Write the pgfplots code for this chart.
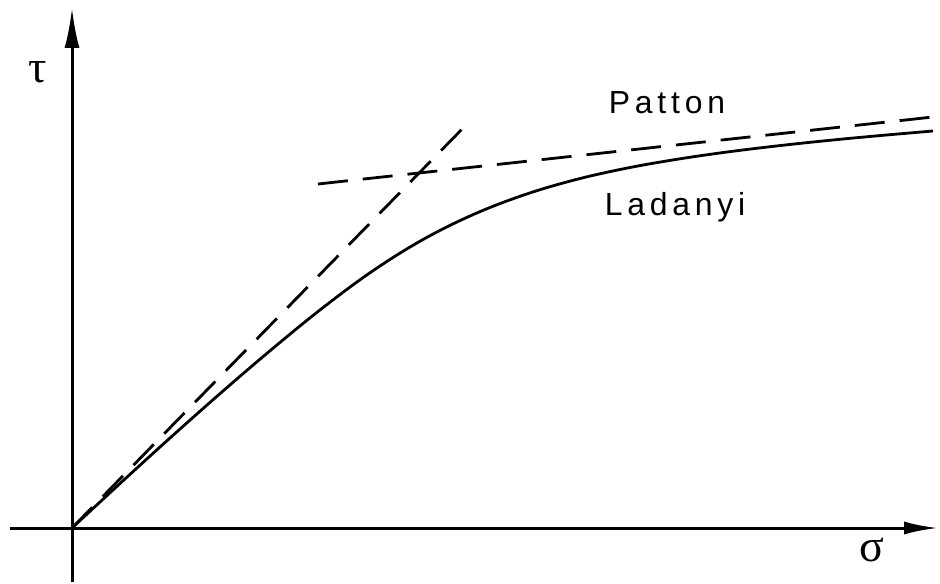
\documentclass[border=0pt]{standalone}
\usepackage{fontspec}
\usepackage{pgfplots}
\pgfplotsset{compat=1.18}
\usetikzlibrary{arrows.meta}
\newfontfamily\labelfont[LetterSpace=15]{Liberation Sans}
\newfontfamily\greekfont{Liberation Serif}

\begin{document}
\begin{tikzpicture}
\begin{axis}[
  width=940bp, height=582bp, scale only axis,
  xmin=-72, xmax=868, ymin=-54, ymax=528,
  hide axis, clip=false,
]
% invisible frame fixing the picture size
\path (rel axis cs:0,0) rectangle (rel axis cs:1,1);

% coordinate axes
\addplot[line width=3bp, -{Latex[length=34bp,width=13bp]}]
  coordinates {(-62,0) (866,0)};
\addplot[line width=3bp, -{Latex[length=40bp,width=15bp]}]
  coordinates {(0,-54) (0,520)};

% initial tangent (dilatant branch)
\addplot[line width=2.8bp, dash pattern=on 29bp off 15bp]
  coordinates {(0,0) (396,405)};
% residual friction line
\addplot[line width=2.8bp, dash pattern=on 30bp off 15bp]
  coordinates {(246,344) (861,411)};

% Ladanyi--Archambault criterion
\addplot[line width=2.8bp, smooth, tension=0.6] coordinates {
  (0,0) (50,46.3) (100,91.8) (150,136.1) (200,178.9) (250,219.6)
  (300,256.6) (350,287.9) (400,312.9) (450,332.4) (500,347.4)
  (550,358.9) (600,367.9) (650,375.3) (700,381.5) (750,386.9)
  (800,391.7) (861,397)
};

\node[font=\labelfont\fontsize{32}{36}\selectfont] at (axis cs:595,425) {Patton};
\node[font=\labelfont\fontsize{32}{36}\selectfont] at (axis cs:603,321) {Ladanyi};
\node[font=\greekfont\fontsize{46}{50}\selectfont] at (axis cs:-34,456) {τ};
\node[font=\greekfont\fontsize{46}{50}\selectfont] at (axis cs:800,-22) {σ};
\end{axis}
\end{tikzpicture}
\end{document}
